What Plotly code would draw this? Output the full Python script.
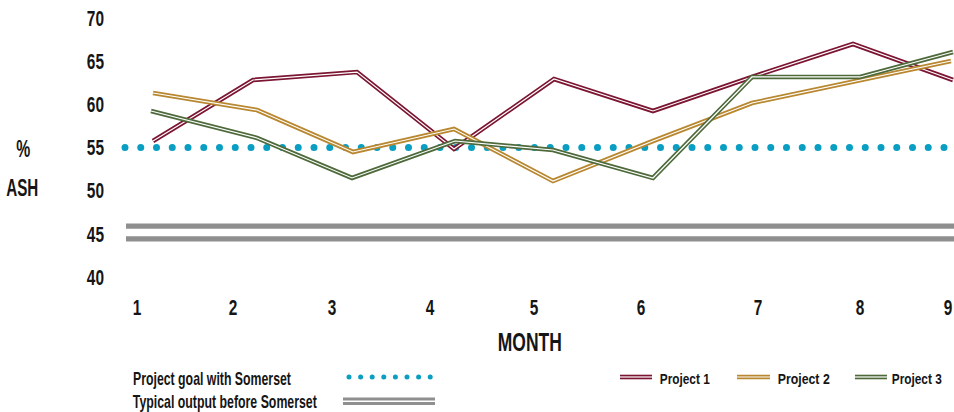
import plotly.graph_objects as go

# ---------------- data ----------------
month_labels = ["1", "2", "3", "4", "5", "6", "7", "8", "9"]
month_pos = [137, 233, 332, 430, 534, 641, 758, 860, 948]   # axis units

p1_x = [153, 253, 357, 454, 554, 653, 752, 853, 953]
p1_y = [55.75, 62.82, 63.74, 54.83, 62.93, 59.23, 63.17, 66.99, 62.82]
p2_x = [153, 257, 353, 454, 553, 653, 752, 853, 951]
p2_y = [61.31, 59.34, 54.48, 57.14, 51.12, 55.75, 60.15, 62.59, 65.02]
p3_x = [151, 257, 352, 455, 553, 653, 752, 860, 953]
p3_y = [59.23, 56.10, 51.47, 55.75, 54.71, 51.47, 63.17, 63.17, 66.06]

goal_value = 55
goal_x = [125, 950]
typical_value = 45.15
typical_x = [126, 954]

y_ticks = [40, 45, 50, 55, 60, 65, 70]

series_names = ["Project 1", "Project 2", "Project 3"]
# ---------------- style ----------------
FONT = "Liberation Sans, Arial, sans-serif"
TXT = "#151515"
C1, C2, C3 = "#7b1532", "#b8872f", "#4e6a3b"
TEAL = "#0a9fc2"
GRAY = "#8f8f8f"

W, H = 954, 412
L, B = 110, 120
PLOT_H = H - B
X_RANGE = [110, 954]
Y_RANGE = [38.26, 72.085]


def pxx(px):
    return (px - L) / (W - L)


def pyy(py):
    return (PLOT_H - py) / PLOT_H


fig = go.Figure()

# typical output (double gray line)
fig.add_trace(go.Scatter(x=typical_x, y=[typical_value] * 2, mode="lines",
                         line=dict(color=GRAY, width=18), hoverinfo="skip", showlegend=False))
fig.add_trace(go.Scatter(x=typical_x, y=[typical_value] * 2, mode="lines",
                         line=dict(color="white", width=7.5), hoverinfo="skip", showlegend=False))
# goal (dotted)
fig.add_trace(go.Scatter(x=goal_x, y=[goal_value] * 2, mode="lines",
                         line=dict(color=TEAL, width=7, dash="0px,15.75px"),
                         hoverinfo="skip", showlegend=False))

for xs, ys, c in [(p1_x, p1_y, C1), (p2_x, p2_y, C2), (p3_x, p3_y, C3)]:
    fig.add_trace(go.Scatter(x=xs, y=ys, mode="lines", line=dict(color=c, width=4.6),
                             hoverinfo="skip", showlegend=False))
    fig.add_trace(go.Scatter(x=xs, y=ys, mode="lines", line=dict(color="white", width=1.2),
                             hoverinfo="skip", showlegend=False))

annotations = []
shapes = []


def text(s, x, y, size):
    annotations.append(dict(text=s, x=pxx(x), y=pyy(y), xref="paper", yref="paper",
                            xanchor="center", yanchor="middle", showarrow=False,
                            font=dict(family=FONT, size=size, color=TXT, weight=700)))


text("%", 23, 149, 23)
text("ASH", 22, 188, 23)
text("MONTH", 530, 342, 25)
text("Project goal with Somerset", 212, 378, 19)
text("Typical output before Somerset", 225, 401, 19)

# legend symbols
shapes.append(dict(type="line", xref="paper", yref="paper", x0=pxx(349), x1=pxx(431),
                   y0=pyy(377), y1=pyy(377), line=dict(color=TEAL, width=5, dash="0px,11.6px")))
shapes.append(dict(type="line", xref="paper", yref="paper", x0=pxx(343), x1=pxx(435),
                   y0=pyy(401.3), y1=pyy(401.3), line=dict(color=GRAY, width=7.5)))
shapes.append(dict(type="line", xref="paper", yref="paper", x0=pxx(343), x1=pxx(435),
                   y0=pyy(401.3), y1=pyy(401.3), line=dict(color="white", width=1.5)))

leg_sym = [(620, 652, 685), (737, 770, 803), (855, 887, 917)]
for (s0, s1, tx), c, name in zip(leg_sym, [C1, C2, C3], series_names):
    shapes.append(dict(type="line", xref="paper", yref="paper", x0=pxx(s0), x1=pxx(s1),
                       y0=pyy(377), y1=pyy(377), line=dict(color=c, width=4.6)))
    shapes.append(dict(type="line", xref="paper", yref="paper", x0=pxx(s0), x1=pxx(s1),
                       y0=pyy(377), y1=pyy(377), line=dict(color="white", width=1.2)))
    text(name, tx, 378, 15.5)

fig.update_layout(
    width=W, height=H,
    margin=dict(l=L, r=0, t=0, b=B, pad=0),
    paper_bgcolor="white", plot_bgcolor="white",
    showlegend=False,
    annotations=annotations, shapes=shapes,
    font=dict(family=FONT, color=TXT, weight=700),
    xaxis=dict(range=X_RANGE, tickmode="array", tickvals=month_pos, ticktext=month_labels,
               showgrid=False, zeroline=False, showline=False, ticks="",
               tickfont=dict(family=FONT, size=22, color=TXT, weight=700), ticklabelstandoff=0,
               ticklabeloverflow="allow", fixedrange=True),
    yaxis=dict(range=Y_RANGE, tickmode="array", tickvals=y_ticks,
               showgrid=False, zeroline=False, showline=False, ticks="",
               tickfont=dict(family=FONT, size=22, color=TXT, weight=700), ticklabelstandoff=5,
               fixedrange=True),
)

# round dot caps for the dotted lines + condensed lettering (reference uses a condensed face)
post = """
var gd = document.getElementById('{plot_id}');
var target = {'%': 14, 'ASH': 32, 'MONTH': 64, 'Project goal with Somerset': 158,
              'Typical output before Somerset': 184, 'Project 1': 50, 'Project 2': 52,
              'Project 3': 50};
function fixUp(){
  gd.querySelectorAll('path').forEach(function(p){
    var d = p.style.strokeDasharray;
    if (d && d !== 'none' && d.indexOf('0px') === 0) { p.style.strokeLinecap = 'round'; }
  });
  gd.querySelectorAll('text').forEach(function(t){
    var s = t.textContent;
    if (!s) return;
    t.removeAttribute('textLength');
    var w = t.getComputedTextLength();
    var tw = (s in target) ? target[s] : w * 0.7;
    t.setAttribute('textLength', tw.toFixed(2));
    t.setAttribute('lengthAdjust', 'spacingAndGlyphs');
  });
}
fixUp();
gd.on('plotly_afterplot', fixUp);
"""

fig.write_html("out.html", config={"displayModeBar": False, "staticPlot": True}, post_script=post)
